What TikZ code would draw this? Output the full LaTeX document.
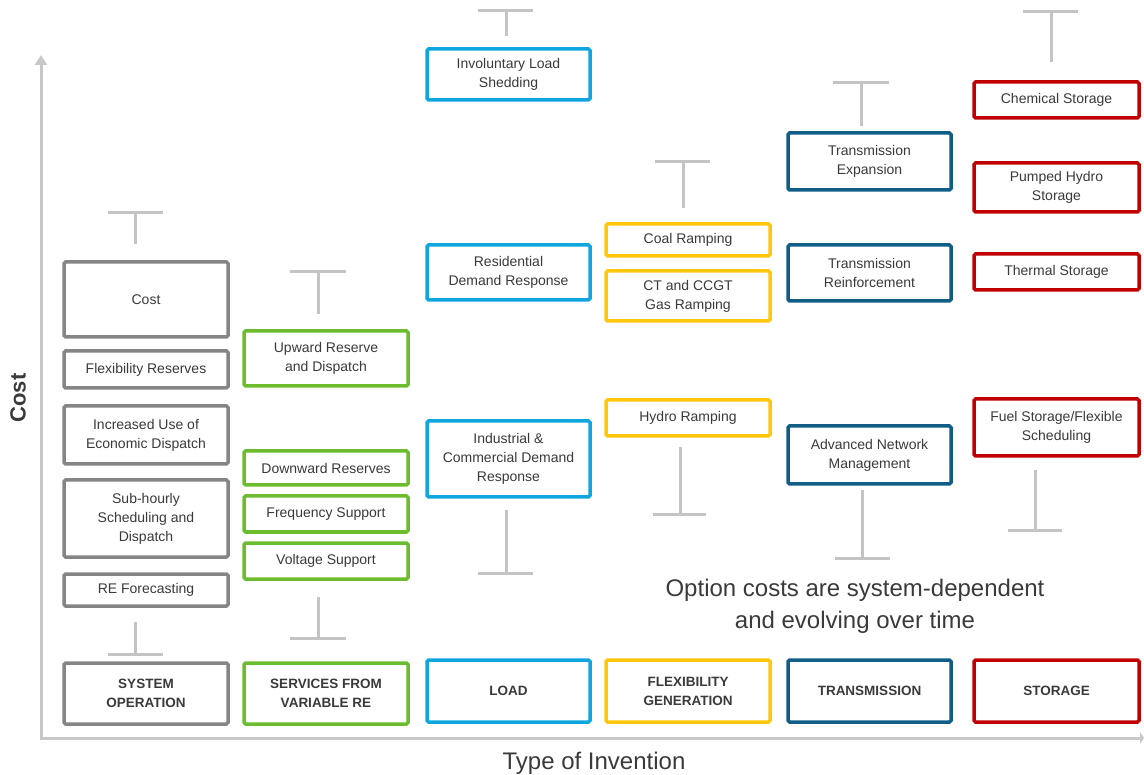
\documentclass[tikz,border=0pt]{standalone}
\usepackage{fontspec}
\setmainfont{Liberation Sans}
\usetikzlibrary{arrows.meta}
\definecolor{txt}{HTML}{3A3A3A}
\definecolor{cgray}{HTML}{858585}
\definecolor{cgreen}{HTML}{6CBD2E}
\definecolor{cblue}{HTML}{0FA6E0}
\definecolor{cyellow}{HTML}{FFC60B}
\definecolor{cnavy}{HTML}{105E85}
\definecolor{cred}{HTML}{C00000}
\definecolor{tbar}{HTML}{C4C4C4}
\definecolor{axis}{HTML}{C8C8C8}
\tikzset{
  box/.style={draw, line width=3.5pt, rounded corners=1.5pt, fill=white,
    align=center, text=txt, font=\fontsize{14}{19}\selectfont, inner sep=2pt},
  cat/.style={box, font=\bfseries\fontsize{13.5}{19}\selectfont},
  graybox/.style={box, draw=cgray, minimum width=164pt},
  greenbox/.style={box, draw=cgreen, minimum width=164pt},
  bluebox/.style={box, draw=cblue, minimum width=163pt},
  yellowbox/.style={box, draw=cyellow, minimum width=164pt},
  navybox/.style={box, draw=cnavy, minimum width=163pt},
  redbox/.style={box, draw=cred, minimum width=165pt},
  costbar/.style={draw=tbar, line width=3pt},
  axisline/.style={draw=axis, line width=3pt},
}
\begin{document}
\begin{tikzpicture}[x=1pt,y=-1pt]
\useasboundingbox (0,0) rectangle (1144,775);

% axes
\draw[axisline, -{Triangle[width=12pt,length=10pt]}] (41,738) -- (41,55);
\draw[axisline, -{Triangle[width=12pt,length=4pt]}] (39.5,738) -- (1144,738);
\node[rotate=90, font=\bfseries\fontsize{22}{26}\selectfont, text=txt] (ylab) at (18,398) {Cost};
\node[font=\fontsize{24}{28}\selectfont, text=txt] (xlab) at (594,763) {Type of Invention};

% cost ranges (T-bars)
\draw[costbar] (108,213) -- (163,213) (135,213) -- (135,244);
\draw[costbar] (135,622) -- (135,654) (108,654) -- (163,654);
\draw[costbar] (290,272) -- (346,272) (318,272) -- (318,314);
\draw[costbar] (318,597) -- (318,638) (290,638) -- (346,638);
\draw[costbar] (478,11) -- (533,11) (506,11) -- (506,36);
\draw[costbar] (506,510) -- (506,573) (478,573) -- (533,573);
\draw[costbar] (655,162) -- (710,162) (683,162) -- (683,208);
\draw[costbar] (680,447) -- (680,515) (653,515) -- (706,515);
\draw[costbar] (833,83) -- (889,83) (861,83) -- (861,126);
\draw[costbar] (862,490) -- (862,558) (835,558) -- (890,558);
\draw[costbar] (1023,12) -- (1078,12) (1051,12) -- (1051,62);
\draw[costbar] (1035,470) -- (1035,531) (1008,531) -- (1062,531);

% system operation
\node[graybox, minimum height=75pt] (cost) at (146,299.5) {Cost};
\node[graybox, minimum height=37pt] (flexres) at (146,369.5) {Flexibility Reserves};
\node[graybox, minimum height=58pt] (econ) at (146,435) {Increased Use of\\Economic Dispatch};
\node[graybox, minimum height=77pt] (subh) at (146,518.5) {Sub-hourly\\Scheduling and\\Dispatch};
\node[graybox, minimum height=32pt] (refc) at (146,590) {RE Forecasting};
\node[graybox, cat, minimum height=61pt] (sysop) at (146,693.5) {SYSTEM\\OPERATION};

% services from variable RE
\node[greenbox, minimum height=55pt] (up) at (326,358.5) {Upward Reserve\\and Dispatch};
\node[greenbox, minimum height=34pt] (down) at (326,468) {Downward Reserves};
\node[greenbox, minimum height=36pt] (freq) at (326,514) {Frequency Support};
\node[greenbox, minimum height=36pt] (volt) at (326,561) {Voltage Support};
\node[greenbox, cat, minimum height=61pt] (svc) at (326,693.5) {SERVICES FROM\\VARIABLE RE};

% load
\node[bluebox, minimum height=51pt] (invol) at (508.5,74.5) {Involuntary Load\\Shedding};
\node[bluebox, minimum height=55pt] (resid) at (508.5,272.5) {Residential\\Demand Response};
\node[bluebox, minimum height=76pt] (indus) at (508.5,459) {Industrial \&\\Commercial Demand\\Response};
\node[bluebox, cat, minimum height=62pt] (load) at (508.5,691) {LOAD};

% flexible generation
\node[yellowbox, minimum height=32pt] (coal) at (688,240) {Coal Ramping};
\node[yellowbox, minimum height=50pt] (ccgt) at (688,296) {CT and CCGT\\Gas Ramping};
\node[yellowbox, minimum height=36pt] (hydro) at (688,418) {Hydro Ramping};
\node[yellowbox, cat, minimum height=62pt] (flexgen) at (688,691) {FLEXIBILITY\\GENERATION};

% transmission
\node[navybox, minimum height=57pt] (texp) at (869.5,161.5) {Transmission\\Expansion};
\node[navybox, minimum height=56pt] (trein) at (869.5,273) {Transmission\\Reinforcement};
\node[navybox, minimum height=58pt] (anm) at (869.5,455) {Advanced Network\\Management};
\node[navybox, cat, minimum height=62pt] (trans) at (869.5,691) {TRANSMISSION};

% storage
\node[redbox, minimum height=36pt] (chem) at (1056.5,100) {Chemical Storage};
\node[redbox, minimum height=49pt] (pump) at (1056.5,187.5) {Pumped Hydro\\Storage};
\node[redbox, minimum height=36pt] (therm) at (1056.5,272) {Thermal Storage};
\node[redbox, minimum height=57pt] (fuel) at (1056.5,427.5) {Fuel Storage/Flexible\\Scheduling};
\node[redbox, cat, minimum height=62pt] (stor) at (1056.5,691) {STORAGE};

% note
\node[align=center, text=txt, font=\fontsize{24}{32}\selectfont] (note) at (855,606)
  {Option costs are system-dependent\\and evolving over time};
\end{tikzpicture}
\end{document}
